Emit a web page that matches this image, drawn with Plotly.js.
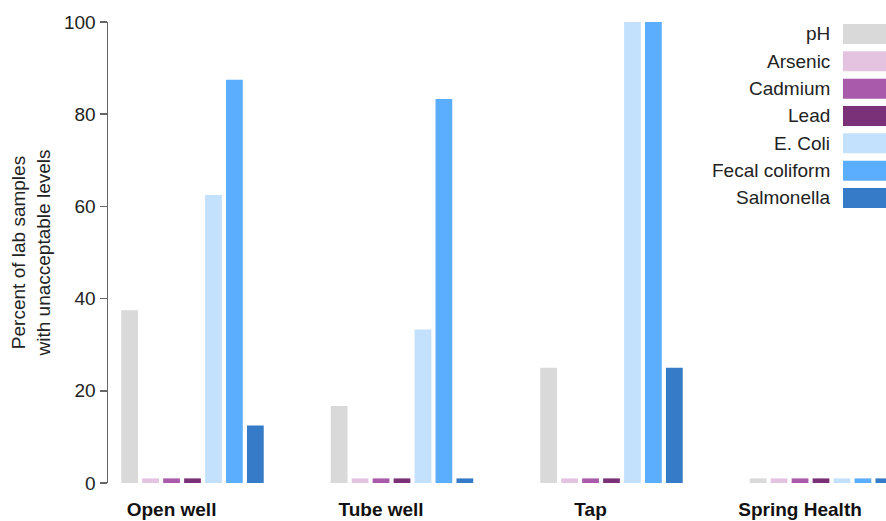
<!DOCTYPE html>
<html>
<head>
<meta charset="utf-8">
<script src="https://cdn.plot.ly/plotly-3.0.1.min.js"></script>
<style>html,body{margin:0;padding:0;background:#fff;}#chart{width:886px;height:521px;}</style>
</head>
<body>
<div id="chart"></div>
<script>
const categories = ["Open well", "Tube well", "Tap", "Spring Health"];
const seriesNames = ["pH", "Arsenic", "Cadmium", "Lead", "E. Coli", "Fecal coliform", "Salmonella"];
const pH = [37.5, 16.7, 25, 1];
const arsenic = [1, 1, 1, 1];
const cadmium = [1, 1, 1, 1];
const lead = [1, 1, 1, 1];
const eColi = [62.5, 33.3, 100, 1];
const fecalColiform = [87.5, 83.3, 100, 1];
const salmonella = [12.5, 1, 25, 1];
const yTicks = [0, 20, 40, 60, 80, 100];
const colors = ["#d9d9d9", "#e3c3e0", "#a95aaa", "#7a3177", "#c3e1fd", "#5badfd", "#357bc7"];

const seriesValues = [pH, arsenic, cadmium, lead, eColi, fecalColiform, salmonella];
const xIdx = categories.map((c, i) => i);
const labelShift = -0.1;
const FONT = "Liberation Sans, Arial, sans-serif";

const traces = seriesNames.map((name, k) => ({
  type: "bar",
  name: name,
  x: xIdx,
  y: seriesValues[k],
  marker: {color: colors[k], line: {width: 0}},
  showlegend: false,
  hoverinfo: "name+y"
}));

const L = 108, R = 886, T = 22, B = 483;
const pw = R - L, ph = B - T;
const annotations = [], shapes = [];
seriesNames.forEach((name, k) => {
  const top = 24 + k * 27.33;
  const cy = top + 10;
  annotations.push({
    xref: "paper", yref: "paper",
    x: (832 - L) / pw, y: (B - cy) / ph,
    xanchor: "right", yanchor: "middle",
    text: name, showarrow: false,
    font: {family: FONT, size: 19, color: "#222"}
  });
  shapes.push({
    type: "rect", xref: "paper", yref: "paper",
    x0: (843 - L) / pw, x1: 1.0,
    y0: (B - top - 20) / ph, y1: (B - top) / ph,
    fillcolor: colors[k], line: {width: 0}
  });
});

const layout = {
  width: 886, height: 521,
  margin: {l: L, r: 886 - R, t: T, b: 521 - B, pad: 0},
  paper_bgcolor: "#fff", plot_bgcolor: "#fff",
  barmode: "group", bargap: 0.3, bargroupgap: 0.2,
  font: {family: FONT, size: 19, color: "#222"},
  xaxis: {
    range: [-(192.5 - L) / 209.5, -(192.5 - L) / 209.5 + pw / 209.5],
    tickvals: xIdx.map(i => i + labelShift),
    ticktext: categories,
    ticks: "", showgrid: false, zeroline: false, showline: false,
    tickfont: {family: FONT, size: 19, color: "#111", weight: "bold"},
    ticklabelstandoff: 13,
    fixedrange: true
  },
  yaxis: {
    range: [0, 100],
    tickvals: yTicks,
    ticks: "outside", ticklen: 7, tickwidth: 1.5, tickcolor: "#666",
    showline: true, linecolor: "#666", linewidth: 1.5,
    showgrid: false, zeroline: false,
    tickfont: {family: FONT, size: 19, color: "#222"},
    title: {text: "Percent of lab samples<br>with unacceptable levels", standoff: 8,
            font: {family: FONT, size: 19, color: "#222"}},
    automargin: false,
    fixedrange: true
  },
  annotations: annotations,
  shapes: shapes
};

Plotly.newPlot("chart", traces, layout, {displayModeBar: false, staticPlot: true});
</script>
</body>
</html>
